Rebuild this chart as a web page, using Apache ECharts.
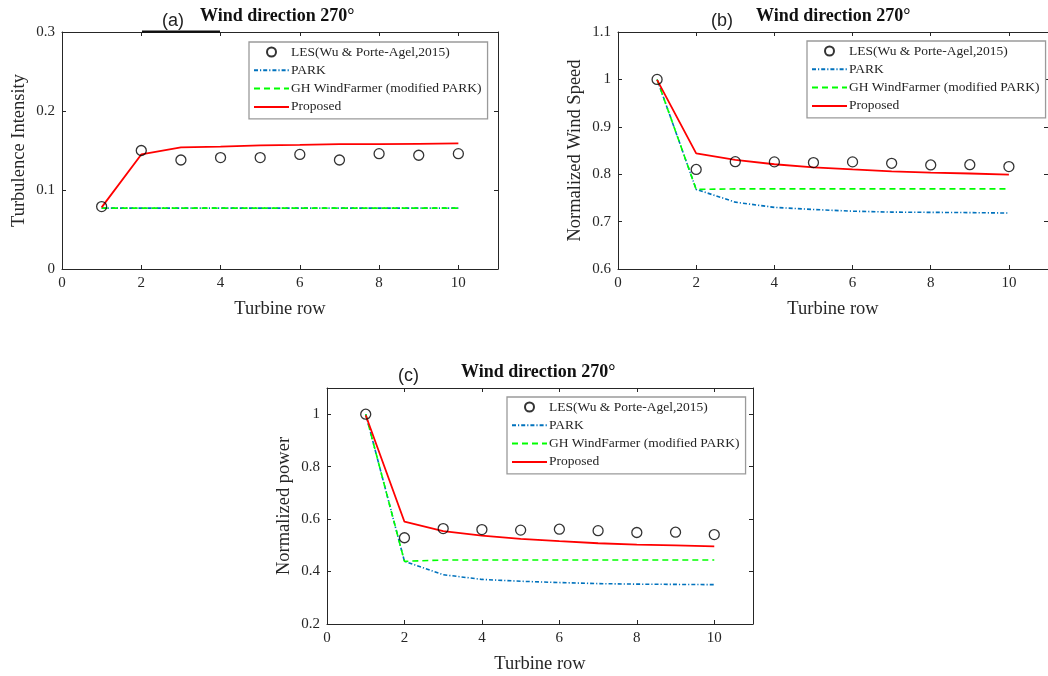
<!DOCTYPE html>
<html>
<head>
<meta charset="utf-8">
<script src="https://cdn.jsdelivr.net/npm/echarts@6/dist/echarts.min.js"></script>
<style>
html,body{margin:0;padding:0;background:#fff;}
#main{width:1048px;height:676px;}
</style>
</head>
<body>
<div id="main"></div>
<script>
// ---------- data ----------
const rows = [1, 2, 3, 4, 5, 6, 7, 8, 9, 10];
const seriesNames = ['LES(Wu & Porte-Agel,2015)', 'PARK', 'GH WindFarmer (modified PARK)', 'Proposed'];

// (a) Turbulence intensity
const tiLES      = [0.079, 0.150, 0.138, 0.141, 0.141, 0.145, 0.138, 0.146, 0.144, 0.146];
const tiPark     = [0.077, 0.077, 0.077, 0.077, 0.077, 0.077, 0.077, 0.077, 0.077, 0.077];
const tiGH       = [0.077, 0.077, 0.077, 0.077, 0.077, 0.077, 0.077, 0.077, 0.077, 0.077];
const tiProposed = [0.078, 0.145, 0.154, 0.155, 0.1565, 0.157, 0.158, 0.158, 0.1585, 0.159];

// (b) Normalized wind speed
const wsLES      = [1.000, 0.810, 0.8265, 0.826, 0.8245, 0.826, 0.823, 0.8195, 0.820, 0.816];
const wsPark     = [1.000, 0.768, 0.741, 0.730, 0.7255, 0.722, 0.720, 0.7195, 0.719, 0.718];
const wsGH       = [1.000, 0.768, 0.769, 0.769, 0.769, 0.769, 0.769, 0.769, 0.769, 0.769];
const wsProposed = [0.999, 0.844, 0.830, 0.821, 0.8145, 0.810, 0.806, 0.8035, 0.8015, 0.799];

// (c) Normalized power
const pwLES      = [1.000, 0.529, 0.564, 0.560, 0.558, 0.5615, 0.556, 0.549, 0.550, 0.541];
const pwPark     = [1.000, 0.439, 0.388, 0.370, 0.363, 0.358, 0.354, 0.352, 0.351, 0.350];
const pwGH       = [1.000, 0.439, 0.444, 0.444, 0.444, 0.444, 0.444, 0.444, 0.444, 0.444];
const pwProposed = [0.996, 0.590, 0.554, 0.537, 0.525, 0.516, 0.508, 0.503, 0.500, 0.496];

const panelLetters = ['(a)', '(b)', '(c)'];
const panelTitle = 'Wind direction 270°';
const xName = 'Turbine row';
const yNames = ['Turbulence Intensity', 'Normalized Wind Speed', 'Normalized power'];
// axis ranges [min, max, interval]
const xRange = [0, 11, 2];
const yRanges = [[0, 0.3, 0.1], [0.6, 1.1, 0.1], [0.2, 1.1, 0.2]];

// ---------- layout / style ----------
const SERIF = '"Liberation Serif", "DejaVu Serif", serif';
const INK = '#262626';
const grids = [
  {left: 62, top: 32, width: 436, height: 237},
  {left: 618, top: 32, width: 431, height: 237},
  {left: 327, top: 388, width: 426, height: 236}
];
const legendPos = [{left: 249, top: 42}, {left: 807, top: 41}, {left: 507, top: 397}];
const letterPos = [{left: 162, top: 12}, {left: 711, top: 12}, {left: 398, top: 367}];
const titlePos = [{left: 200, top: 7}, {left: 756, top: 7}, {left: 461, top: 363}];
const hideMax = [false, false, true];

const fmt = v => String(parseFloat(v.toFixed(3)));
const pairs = ys => rows.map((x, i) => [x, ys[i]]);
const panelData = [
  [tiLES, tiPark, tiGH, tiProposed],
  [wsLES, wsPark, wsGH, wsProposed],
  [pwLES, pwPark, pwGH, pwProposed]
];

const legendItems = seriesNames.map((n, i) => i === 0 ? {name: n} :
  {name: n, itemStyle: {color: 'rgba(0,0,0,0)', borderColor: 'rgba(0,0,0,0)', opacity: 0}});

const xAxes = [], yAxes = [], series = [], legends = [], titles = [];
grids.forEach((g, k) => {
  const [ymin, ymax, yint] = yRanges[k];
  xAxes.push({
    type: 'value', gridIndex: k, position: 'bottom', min: xRange[0], max: xRange[1], interval: xRange[2],
    name: xName, nameLocation: 'middle', nameGap: 31,
    nameTextStyle: {fontFamily: SERIF, fontSize: 18.5, color: INK},
    axisLine: {show: true, lineStyle: {color: INK, width: 1}},
    axisTick: {show: true, inside: true, length: 4, lineStyle: {color: INK}},
    axisLabel: {show: true, margin: 7, fontFamily: SERIF, fontSize: 15, color: INK, formatter: fmt, showMaxLabel: false},
    splitLine: {show: false}
  });
  xAxes.push({
    type: 'value', gridIndex: k, position: 'top', min: xRange[0], max: xRange[1], interval: xRange[2],
    axisLine: {show: true, onZero: false, lineStyle: {color: INK, width: 1}},
    axisTick: {show: true, inside: true, length: 4, lineStyle: {color: INK}},
    axisLabel: {show: false}, splitLine: {show: false}
  });
  yAxes.push({
    type: 'value', gridIndex: k, position: 'left', min: ymin, max: ymax, interval: yint,
    name: yNames[k], nameLocation: 'middle', nameGap: 33,
    nameTextStyle: {fontFamily: SERIF, fontSize: 18.5, color: INK},
    axisLine: {show: true, lineStyle: {color: INK, width: 1}},
    axisTick: {show: true, inside: true, length: 4, lineStyle: {color: INK}},
    axisLabel: {show: true, margin: 7, fontFamily: SERIF, fontSize: 15, color: INK, formatter: fmt,
                showMaxLabel: !hideMax[k]},
    splitLine: {show: false}
  });
  yAxes.push({
    type: 'value', gridIndex: k, position: 'right', min: ymin, max: ymax, interval: yint,
    axisLine: {show: true, onZero: false, lineStyle: {color: INK, width: 1}},
    axisTick: {show: true, inside: true, length: 4, lineStyle: {color: INK}},
    axisLabel: {show: false}, splitLine: {show: false}
  });
  const xi = 2 * k, yi = 2 * k;
  const d = panelData[k];
  series.push({
    name: seriesNames[0], type: 'scatter', xAxisIndex: xi, yAxisIndex: yi, data: pairs(d[0]),
    symbol: 'circle', symbolSize: 10, z: 5,
    itemStyle: {color: 'rgba(0,0,0,0)', borderColor: '#000', borderWidth: 1.3}
  });
  series.push({
    name: seriesNames[1], type: 'line', xAxisIndex: xi, yAxisIndex: yi, data: pairs(d[1]),
    symbol: 'none', color: '#0072BD',
    lineStyle: {color: '#0072BD', width: 1.6, type: [4, 2, 1.2, 2]}
  });
  series.push({
    name: seriesNames[2], type: 'line', xAxisIndex: xi, yAxisIndex: yi, data: pairs(d[2]),
    symbol: 'none', color: '#00FF00',
    lineStyle: {color: '#00FF00', width: 1.6, type: [6, 4]}
  });
  series.push({
    name: seriesNames[3], type: 'line', xAxisIndex: xi, yAxisIndex: yi, data: pairs(d[3]),
    symbol: 'none', color: '#FF0000',
    lineStyle: {color: '#FF0000', width: 1.8, type: 'solid'}
  });
  legends.push({
    orient: 'vertical', left: legendPos[k].left, top: legendPos[k].top,
    data: legendItems, selectedMode: false,
    itemWidth: 35, itemHeight: 9, itemGap: 4.3,
    padding: [3, 6, 5, 4],
    backgroundColor: '#fff', borderColor: '#9a9a9a', borderWidth: 1.3,
    textStyle: {fontFamily: SERIF, fontSize: 13.5, color: INK, lineHeight: 14, padding: [0, 0, 0, -3]}
  });
  titles.push({text: panelLetters[k], left: letterPos[k].left, top: letterPos[k].top, padding: 0,
    textStyle: {fontFamily: '"Liberation Sans", sans-serif', fontSize: 18, fontWeight: 'normal', color: '#222'}});
  titles.push({text: panelTitle, left: titlePos[k].left, top: titlePos[k].top, padding: 0,
    textStyle: {fontFamily: SERIF, fontSize: 18, fontWeight: 'bold', color: '#111'}});
});

const chart = echarts.init(document.getElementById('main'), null, {renderer: 'canvas'});
chart.setOption({
  backgroundColor: '#fff',
  animation: false,
  title: titles,
  grid: grids.map(g => Object.assign({containLabel: false}, g)),
  xAxis: xAxes,
  yAxis: yAxes,
  legend: legends,
  series: series,
  graphic: [{type: 'rect', shape: {x: 142, y: 30.5, width: 78, height: 2.2}, style: {fill: '#111'}, z: 10}]
});
</script>
</body>
</html>
